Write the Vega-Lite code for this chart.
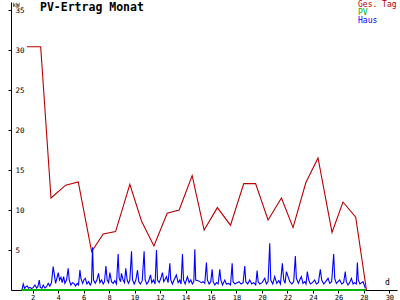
{
  "$schema": "https://vega.github.io/schema/vega-lite/v6.json",
  "width": 386,
  "height": 288,
  "autosize": {"type": "none"},
  "padding": {"left": 11, "top": 2, "right": 3, "bottom": 10},
  "background": "white",
  "config": {
    "view": {"stroke": null},
    "axis": {"domainColor": "black", "tickColor": "black", "labelColor": "black", "labelFont": "DejaVu Sans Mono", "labelFontSize": 7, "grid": false, "titleFont": "DejaVu Sans Mono", "titleFontWeight": "normal", "titleColor": "black"}
  },
  "title": {"text": "PV-Ertrag Monat", "font": "DejaVu Sans Mono", "fontWeight": "bold", "fontSize": 11.5, "anchor": "start", "frame": "group", "offset": -9, "dy": 12, "baseline": "alphabetic", "dx": 29, "color": "black"},
  "data": {"values": [
    {"s":"Ges. Tag","d":1.55,"v":30.4},{"s":"Ges. Tag","d":2.63,"v":30.4},{"s":"Ges. Tag","d":3.44,"v":11.5},{"s":"Ges. Tag","d":4.59,"v":13.1},{"s":"Ges. Tag","d":5.58,"v":13.5},{"s":"Ges. Tag","d":6.63,"v":4.8},{"s":"Ges. Tag","d":7.54,"v":7.0},{"s":"Ges. Tag","d":8.51,"v":7.3},{"s":"Ges. Tag","d":9.63,"v":13.2},{"s":"Ges. Tag","d":10.55,"v":8.6},{"s":"Ges. Tag","d":11.52,"v":5.5},{"s":"Ges. Tag","d":12.56,"v":9.6},{"s":"Ges. Tag","d":13.5,"v":10.0},{"s":"Ges. Tag","d":14.52,"v":14.3},{"s":"Ges. Tag","d":15.46,"v":7.5},{"s":"Ges. Tag","d":16.5,"v":10.3},{"s":"Ges. Tag","d":17.53,"v":8.1},{"s":"Ges. Tag","d":18.57,"v":13.3},{"s":"Ges. Tag","d":19.5,"v":13.3},{"s":"Ges. Tag","d":20.48,"v":8.75},{"s":"Ges. Tag","d":21.53,"v":11.5},{"s":"Ges. Tag","d":22.44,"v":7.8},{"s":"Ges. Tag","d":23.44,"v":13.4},{"s":"Ges. Tag","d":24.4,"v":16.5},{"s":"Ges. Tag","d":25.5,"v":7.2},{"s":"Ges. Tag","d":26.36,"v":11.0},{"s":"Ges. Tag","d":27.36,"v":9.1},{"s":"Ges. Tag","d":28.2,"v":0},
    {"s":"PV","d":1.14,"v":0},{"s":"PV","d":28.15,"v":0},
    {"s":"Haus","d":1.16,"v":0},{"s":"Haus","d":1.26,"v":0.75},{"s":"Haus","d":1.37,"v":0.21},{"s":"Haus","d":1.47,"v":0.42},{"s":"Haus","d":1.58,"v":0.5},{"s":"Haus","d":1.68,"v":0.21},{"s":"Haus","d":1.79,"v":0.33},{"s":"Haus","d":1.92,"v":0.17},{"s":"Haus","d":2.05,"v":0.33},{"s":"Haus","d":2.18,"v":0.63},{"s":"Haus","d":2.31,"v":0.25},{"s":"Haus","d":2.41,"v":0.42},{"s":"Haus","d":2.52,"v":1.25},{"s":"Haus","d":2.6,"v":0.33},{"s":"Haus","d":2.73,"v":0.21},{"s":"Haus","d":2.83,"v":0.63},{"s":"Haus","d":2.96,"v":0.25},{"s":"Haus","d":3.09,"v":0.42},{"s":"Haus","d":3.22,"v":0.83},{"s":"Haus","d":3.35,"v":0.5},{"s":"Haus","d":3.48,"v":0.92},{"s":"Haus","d":3.61,"v":2.92},{"s":"Haus","d":3.69,"v":2.08},{"s":"Haus","d":3.8,"v":0.83},{"s":"Haus","d":3.9,"v":1.46},{"s":"Haus","d":4.01,"v":2.17},{"s":"Haus","d":4.11,"v":1.25},{"s":"Haus","d":4.22,"v":1.58},{"s":"Haus","d":4.32,"v":0.92},{"s":"Haus","d":4.43,"v":1.67},{"s":"Haus","d":4.53,"v":0.83},{"s":"Haus","d":4.66,"v":1.25},{"s":"Haus","d":4.79,"v":2.71},{"s":"Haus","d":4.87,"v":1.25},{"s":"Haus","d":5.0,"v":0.63},{"s":"Haus","d":5.13,"v":0.92},{"s":"Haus","d":5.24,"v":0.83},{"s":"Haus","d":5.37,"v":0.5},{"s":"Haus","d":5.5,"v":0.83},{"s":"Haus","d":5.6,"v":0.63},{"s":"Haus","d":5.71,"v":2.5},{"s":"Haus","d":5.79,"v":1.46},{"s":"Haus","d":5.92,"v":0.83},{"s":"Haus","d":6.02,"v":1.25},{"s":"Haus","d":6.13,"v":1.46},{"s":"Haus","d":6.26,"v":0.75},{"s":"Haus","d":6.39,"v":1.04},{"s":"Haus","d":6.52,"v":0.63},{"s":"Haus","d":6.62,"v":0.92},{"s":"Haus","d":6.7,"v":5.33},{"s":"Haus","d":6.78,"v":1.25},{"s":"Haus","d":6.91,"v":0.83},{"s":"Haus","d":7.04,"v":1.25},{"s":"Haus","d":7.17,"v":2.08},{"s":"Haus","d":7.28,"v":0.92},{"s":"Haus","d":7.41,"v":1.25},{"s":"Haus","d":7.54,"v":0.75},{"s":"Haus","d":7.64,"v":1.04},{"s":"Haus","d":7.75,"v":3.0},{"s":"Haus","d":7.85,"v":1.25},{"s":"Haus","d":7.96,"v":0.92},{"s":"Haus","d":8.06,"v":2.17},{"s":"Haus","d":8.19,"v":1.04},{"s":"Haus","d":8.32,"v":0.83},{"s":"Haus","d":8.45,"v":1.17},{"s":"Haus","d":8.58,"v":0.75},{"s":"Haus","d":8.71,"v":4.5},{"s":"Haus","d":8.79,"v":1.46},{"s":"Haus","d":8.9,"v":1.04},{"s":"Haus","d":8.97,"v":2.08},{"s":"Haus","d":9.1,"v":1.25},{"s":"Haus","d":9.21,"v":0.92},{"s":"Haus","d":9.31,"v":2.71},{"s":"Haus","d":9.42,"v":1.25},{"s":"Haus","d":9.52,"v":0.83},{"s":"Haus","d":9.63,"v":1.25},{"s":"Haus","d":9.76,"v":4.83},{"s":"Haus","d":9.84,"v":1.25},{"s":"Haus","d":9.97,"v":0.75},{"s":"Haus","d":10.1,"v":1.25},{"s":"Haus","d":10.23,"v":2.5},{"s":"Haus","d":10.33,"v":1.04},{"s":"Haus","d":10.46,"v":0.75},{"s":"Haus","d":10.6,"v":1.17},{"s":"Haus","d":10.75,"v":4.83},{"s":"Haus","d":10.83,"v":1.25},{"s":"Haus","d":10.96,"v":0.75},{"s":"Haus","d":11.09,"v":1.04},{"s":"Haus","d":11.25,"v":1.88},{"s":"Haus","d":11.35,"v":0.92},{"s":"Haus","d":11.48,"v":1.25},{"s":"Haus","d":11.61,"v":0.75},{"s":"Haus","d":11.72,"v":5.0},{"s":"Haus","d":11.8,"v":1.25},{"s":"Haus","d":11.93,"v":0.92},{"s":"Haus","d":12.06,"v":1.46},{"s":"Haus","d":12.19,"v":2.17},{"s":"Haus","d":12.29,"v":1.04},{"s":"Haus","d":12.4,"v":1.33},{"s":"Haus","d":12.5,"v":1.67},{"s":"Haus","d":12.63,"v":0.92},{"s":"Haus","d":12.77,"v":3.33},{"s":"Haus","d":12.84,"v":1.25},{"s":"Haus","d":12.97,"v":0.75},{"s":"Haus","d":13.1,"v":1.25},{"s":"Haus","d":13.28,"v":1.88},{"s":"Haus","d":13.42,"v":0.92},{"s":"Haus","d":13.55,"v":1.25},{"s":"Haus","d":13.65,"v":0.75},{"s":"Haus","d":13.76,"v":4.5},{"s":"Haus","d":13.84,"v":1.25},{"s":"Haus","d":13.97,"v":0.75},{"s":"Haus","d":14.15,"v":1.67},{"s":"Haus","d":14.28,"v":0.92},{"s":"Haus","d":14.41,"v":1.25},{"s":"Haus","d":14.54,"v":0.75},{"s":"Haus","d":14.65,"v":1.04},{"s":"Haus","d":14.73,"v":5.08},{"s":"Haus","d":14.8,"v":1.25},{"s":"Haus","d":14.99,"v":1.17},
    {"s":"Haus","d":15.25,"v":0.92},{"s":"Haus","d":15.38,"v":1.04},{"s":"Haus","d":15.51,"v":0.83},{"s":"Haus","d":15.64,"v":3.42},{"s":"Haus","d":15.72,"v":1.25},{"s":"Haus","d":15.85,"v":0.75},{"s":"Haus","d":15.98,"v":1.04},{"s":"Haus","d":16.09,"v":2.58},{"s":"Haus","d":16.17,"v":1.04},{"s":"Haus","d":16.3,"v":0.63},{"s":"Haus","d":16.43,"v":0.92},{"s":"Haus","d":16.56,"v":0.75},{"s":"Haus","d":16.69,"v":2.58},{"s":"Haus","d":16.77,"v":1.25},{"s":"Haus","d":16.9,"v":0.63},{"s":"Haus","d":17.08,"v":1.25},{"s":"Haus","d":17.21,"v":0.75},{"s":"Haus","d":17.37,"v":0.83},{"s":"Haus","d":17.53,"v":0.63},{"s":"Haus","d":17.66,"v":3.33},{"s":"Haus","d":17.73,"v":1.04},{"s":"Haus","d":17.89,"v":0.75},{"s":"Haus","d":18.05,"v":0.92},{"s":"Haus","d":18.2,"v":1.04},{"s":"Haus","d":18.36,"v":0.75},{"s":"Haus","d":18.52,"v":0.92},{"s":"Haus","d":18.65,"v":3.0},{"s":"Haus","d":18.73,"v":1.04},{"s":"Haus","d":18.88,"v":0.75},{"s":"Haus","d":19.04,"v":1.25},{"s":"Haus","d":19.2,"v":0.75},{"s":"Haus","d":19.36,"v":0.92},{"s":"Haus","d":19.51,"v":0.63},{"s":"Haus","d":19.62,"v":2.42},{"s":"Haus","d":19.7,"v":1.04},{"s":"Haus","d":19.83,"v":0.75},{"s":"Haus","d":20.01,"v":0.92},{"s":"Haus","d":20.22,"v":1.46},{"s":"Haus","d":20.35,"v":0.75},{"s":"Haus","d":20.48,"v":1.04},{"s":"Haus","d":20.61,"v":5.83},{"s":"Haus","d":20.69,"v":1.25},{"s":"Haus","d":20.85,"v":0.75},{"s":"Haus","d":21.0,"v":1.67},{"s":"Haus","d":21.16,"v":0.83},{"s":"Haus","d":21.32,"v":1.17},{"s":"Haus","d":21.45,"v":0.75},{"s":"Haus","d":21.6,"v":3.33},{"s":"Haus","d":21.71,"v":1.25},{"s":"Haus","d":21.81,"v":0.83},{"s":"Haus","d":21.92,"v":2.29},{"s":"Haus","d":22.05,"v":1.67},{"s":"Haus","d":22.18,"v":1.04},{"s":"Haus","d":22.34,"v":0.75},{"s":"Haus","d":22.49,"v":1.04},{"s":"Haus","d":22.62,"v":4.25},{"s":"Haus","d":22.7,"v":1.46},{"s":"Haus","d":22.86,"v":0.83},{"s":"Haus","d":22.96,"v":1.25},{"s":"Haus","d":23.09,"v":1.67},{"s":"Haus","d":23.22,"v":0.83},{"s":"Haus","d":23.36,"v":1.04},{"s":"Haus","d":23.46,"v":0.75},{"s":"Haus","d":23.56,"v":2.29},{"s":"Haus","d":23.67,"v":1.25},{"s":"Haus","d":23.8,"v":0.75},{"s":"Haus","d":23.96,"v":0.92},{"s":"Haus","d":24.14,"v":1.25},{"s":"Haus","d":24.27,"v":0.75},{"s":"Haus","d":24.43,"v":0.92},{"s":"Haus","d":24.58,"v":2.58},{"s":"Haus","d":24.69,"v":1.25},{"s":"Haus","d":24.85,"v":0.75},{"s":"Haus","d":25.0,"v":1.04},{"s":"Haus","d":25.19,"v":1.46},{"s":"Haus","d":25.32,"v":0.83},{"s":"Haus","d":25.47,"v":1.04},{"s":"Haus","d":25.63,"v":4.5},{"s":"Haus","d":25.71,"v":1.46},{"s":"Haus","d":25.84,"v":0.83},{"s":"Haus","d":25.97,"v":1.04},{"s":"Haus","d":26.1,"v":1.25},{"s":"Haus","d":26.26,"v":0.75},{"s":"Haus","d":26.41,"v":0.92},{"s":"Haus","d":26.54,"v":2.29},{"s":"Haus","d":26.62,"v":1.04},{"s":"Haus","d":26.75,"v":0.63},{"s":"Haus","d":26.88,"v":0.92},{"s":"Haus","d":27.02,"v":1.46},{"s":"Haus","d":27.15,"v":0.75},{"s":"Haus","d":27.28,"v":0.92},{"s":"Haus","d":27.41,"v":0.75},{"s":"Haus","d":27.49,"v":3.42},{"s":"Haus","d":27.56,"v":1.25},{"s":"Haus","d":27.69,"v":0.75},{"s":"Haus","d":27.83,"v":0.92},{"s":"Haus","d":27.93,"v":1.04},{"s":"Haus","d":28.03,"v":0.63},{"s":"Haus","d":28.11,"v":0.21}
  ]},
  "encoding": {
    "x": {"field": "d", "type": "quantitative", "scale": {"domain": [0.3, 30.6], "nice": false, "zero": false},
      "axis": {"values": [2,4,6,8,10,12,14,16,18,20,22,24,26,28,30], "tickSize": 3, "labelPadding": 0, "labelBaseline": "top", "title": "d", "titleFontSize": 8, "titleAngle": 0, "titleAlign": "center", "titleBaseline": "alphabetic", "titleX": 376, "titleY": -6}},
    "y": {"field": "v", "type": "quantitative", "scale": {"domain": [0, 36], "nice": false},
      "axis": {"values": [5,10,15,20,25,30,35], "tickSize": 3, "labelAlign": "left", "labelBaseline": "middle", "labelPadding": -7, "labelFontSize": 7.5, "title": "kW", "titleFontSize": 6, "titleAngle": 0, "titleAlign": "left", "titleBaseline": "alphabetic", "titleX": 1, "titleY": 4}}
  },
  "layer": [
    {"data": {"values": [{}]}, "mark": {"type": "rule", "color": "black", "strokeWidth": 1},
     "encoding": {"x": {"datum": -0.56, "type": "quantitative"}, "x2": {"datum": 30.7}, "y": {"datum": 0, "type": "quantitative"}}},
    {"data": {"values": [{}]}, "mark": {"type": "rule", "color": "black", "strokeWidth": 1},
     "encoding": {"x": {"datum": 0.3, "type": "quantitative"}, "y": {"datum": -1, "type": "quantitative"}, "y2": {"datum": 36}}},
    {"data": {"values": [{}]}, "mark": {"type": "point", "shape": "M-1,1L0,0L1,1", "filled": false, "stroke": "black", "strokeWidth": 1, "size": 30, "opacity": 1},
     "encoding": {"x": {"datum": 0.3, "type": "quantitative"}, "y": {"datum": 36, "type": "quantitative"}}},
    {"data": {"values": [{}]}, "mark": {"type": "point", "shape": "M-1,-1L0,0L-1,1", "filled": false, "stroke": "black", "strokeWidth": 1, "size": 30, "opacity": 1},
     "encoding": {"x": {"datum": 30.7, "type": "quantitative"}, "y": {"datum": 0, "type": "quantitative"}}},
    {"transform": [{"filter": "datum.s != 'PV'"}], "mark": {"type": "line", "strokeWidth": 1.1, "interpolate": "linear"},
     "encoding": {"color": {"field": "s", "type": "nominal",
      "scale": {"domain": ["Ges. Tag", "PV", "Haus"], "range": ["#b80000", "#00b400", "#0000ff"]},
      "legend": {"title": null, "orient": "none", "legendX": 339, "legendY": -1, "symbolSize": 0, "symbolOpacity": 0, "symbolStrokeWidth": 0, "labelOffset": 0, "labelFont": "DejaVu Sans Mono", "labelFontSize": 8, "rowPadding": 0,
        "labelColor": {"expr": "datum.value == 'Haus' ? '#0000ff' : datum.value == 'PV' ? '#00b400' : '#b80000'"}}}}},
    {"transform": [{"filter": "datum.s == 'PV'"}], "mark": {"type": "line", "strokeWidth": 2},
     "encoding": {"color": {"field": "s", "type": "nominal"}}}
  ]
}
